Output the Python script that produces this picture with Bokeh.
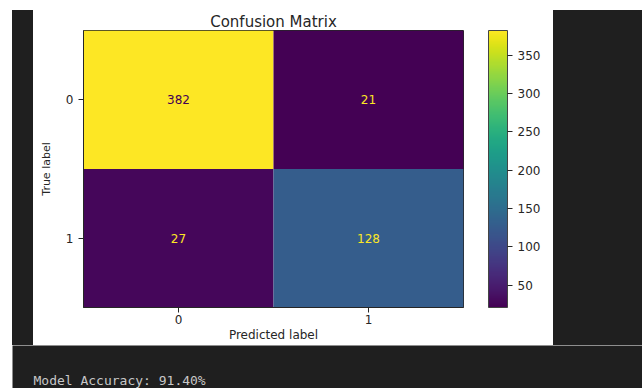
from bokeh.plotting import figure
from bokeh.models import (ColumnDataSource, LinearColorMapper, ColorBar, FixedTicker,
                          Label, Spacer)
from bokeh.layouts import row, column
from bokeh.palettes import Viridis256
from bokeh.core.properties import value
from bokeh.embed import file_html
from bokeh.resources import INLINE

# ---- data ----
class_labels = ["0", "1"]
true_labels = ["0", "0", "1", "1"]
pred_labels = ["0", "1", "0", "1"]
counts = [382, 21, 27, 128]
cbar_ticks = [50, 100, 150, 200, 250, 300, 350]
title_text = "Confusion Matrix"
xlabel_text = "Predicted label"
ylabel_text = "True label"
accuracy_text = "Model Accuracy: 91.40%"

FONT = "DejaVu Sans"
DARK = "#1f1f1f"
TXT = "#262626"

lo, hi = min(counts), max(counts)
thresh = (lo + hi) / 2.0
text_colors = [Viridis256[0] if c > thresh else Viridis256[-1] for c in counts]

src = ColumnDataSource(dict(
    true=true_labels, pred=pred_labels, count=counts,
    count_str=[str(c) for c in counts], tcolor=text_colors,
))

mapper = LinearColorMapper(palette=Viridis256, low=lo, high=hi)

# white "matplotlib figure" panel
W, H = 520, 335
BL, BR, BT, BB = 50, 90, 20, 38
FW, FH = W - BL - BR, H - BT - BB

p = figure(width=W, height=H, x_range=class_labels,
           y_range=list(reversed(class_labels)),
           output_backend="svg", toolbar_location=None,
           min_border_left=BL, min_border_right=BR,
           min_border_top=BT, min_border_bottom=BB,
           border_fill_color="white", background_fill_color="white",
           title=title_text)

p.rect(x="pred", y="true", width=1, height=1, source=src,
       fill_color={"field": "count", "transform": mapper}, line_color=None)
p.text(x="pred", y="true", text="count_str", source=src, text_color="tcolor",
       text_align="center", text_baseline="middle",
       text_font=value(FONT), text_font_size="12px")

p.grid.visible = False
p.outline_line_color = TXT
p.outline_line_width = 1

p.title.align = "center"
p.title.text_font = FONT
p.title.text_font_size = "15px"
p.title.text_font_style = "normal"
p.title.text_color = TXT
p.title.standoff = 0

for ax in (p.xaxis[0], p.yaxis[0]):
    ax.axis_line_color = TXT
    ax.major_tick_line_color = TXT
    ax.major_tick_out = 5
    ax.major_tick_in = 0
    ax.minor_tick_line_color = None
    ax.major_label_text_font = FONT
    ax.major_label_text_font_size = "12px"
    ax.major_label_text_color = TXT
    ax.axis_label_text_font = FONT
    ax.axis_label_text_font_size = "12px"
    ax.axis_label_text_font_style = "normal"
    ax.axis_label_text_color = TXT

p.xaxis.axis_label = xlabel_text
p.xaxis.major_label_standoff = 2
p.xaxis.axis_label_standoff = 1
p.yaxis.axis_label = ylabel_text
p.yaxis.major_label_standoff = 5
p.yaxis.axis_label_standoff = 10
p.yaxis.axis_label_text_font_size = "11px"

cb = ColorBar(color_mapper=mapper, width=19, height=FH,
              location=(405, 0),
              ticker=FixedTicker(ticks=cbar_ticks),
              margin=0, padding=0,
              major_tick_in=0, major_tick_out=5,
              major_tick_line_color=TXT,
              minor_tick_line_color=None,
              bar_line_color="#444444",
              label_standoff=5,
              major_label_text_font=FONT,
              major_label_text_font_size="12px",
              major_label_text_color=TXT,
              background_fill_alpha=0, border_line_color=None)
p.add_layout(cb)

# dark notebook output area below the figure, with the accuracy printout
q = figure(width=630, height=43, x_range=(0, 1), y_range=(0, 1),
           output_backend="svg", toolbar_location=None,
           min_border=0, border_fill_color=DARK, background_fill_color=DARK,
           x_axis_location=None, y_axis_location=None)
q.grid.visible = False
q.outline_line_color = None
q.add_layout(Label(x=21, y=1, x_units="screen", y_units="screen",
                   text=accuracy_text, text_font="DejaVu Sans Mono",
                   text_font_size="13px", text_color="#c8c8c8",
                   text_baseline="bottom", text_align="left"))

dark = {"background-color": DARK}
top_row = row(Spacer(width=21, height=H, styles=dark), p,
              Spacer(width=89, height=H, styles=dark))
layout = row(Spacer(width=12), column(Spacer(height=10), top_row, q))

open("out.html", "w").write(file_html(layout, INLINE))
